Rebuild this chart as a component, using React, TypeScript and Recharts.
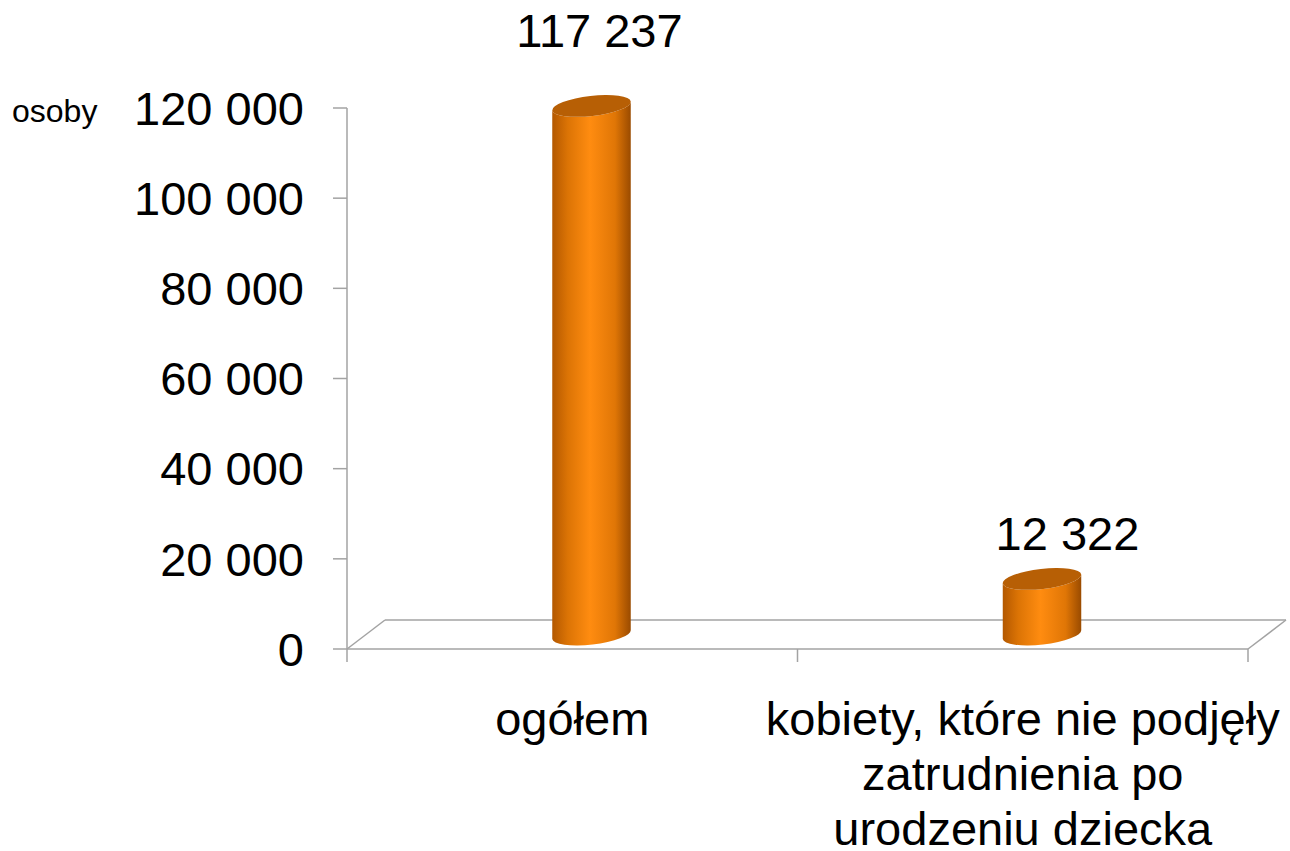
import React from 'react';
import { BarChart, Bar, XAxis, YAxis, LabelList, Customized } from 'recharts';

const CATEGORIES = ['ogółem', 'kobiety, które nie podjęły\nzatrudnienia po\nurodzeniu dziecka'];
const VALUES = [117237, 12322];
const Y_TICKS = [0, 20000, 40000, 60000, 80000, 100000, 120000];
const UNIT = 'osoby';

const data = CATEGORIES.map((name, i) => ({ name, value: VALUES[i] }));

const W = 1290;
const H = 851;
const PLOT = { left: 347, right: 1248, top: 108, bottom: 649 };
const DEPTH_X = 38;
const DEPTH_Y = 29;
const GRID = '#a3a3a3';
const FONT = 'Arial, "Liberation Sans", sans-serif';
const FS = 47;

const fmt = (v: number) => String(v).replace(/\B(?=(\d{3})+(?!\d))/g, ' ');

function Floor() {
    const { left, right, bottom } = PLOT;
    const mid = (left + right) / 2;
    return (
        <g>
            <line x1={left + DEPTH_X} y1={bottom - DEPTH_Y} x2={right + DEPTH_X} y2={bottom - DEPTH_Y} stroke={GRID} strokeWidth={1.5} />
            <line x1={left} y1={bottom} x2={left + DEPTH_X} y2={bottom - DEPTH_Y} stroke={GRID} strokeWidth={1.5} />
            <line x1={right} y1={bottom} x2={right + DEPTH_X} y2={bottom - DEPTH_Y} stroke={GRID} strokeWidth={1.5} />
            {[left, mid, right].map((x) => (
                <line key={x} x1={x} y1={bottom} x2={x} y2={bottom + 13} stroke={GRID} strokeWidth={1.5} />
            ))}
            <text x={12} y={122} fontSize={32} fontFamily={FONT} fill="#000">{UNIT}</text>
        </g>
    );
}

function Cylinder(props: any) {
    const { x, y, width, height } = props;
    const a = width / 2;
    const b = 10;
    const rot = -6.5;
    const cx = x + a + DEPTH_X / 2;
    const yTop = y - DEPTH_Y / 2;
    const yBot = y + height - DEPTH_Y / 2;
    const ex = a * Math.cos((rot * Math.PI) / 180);
    const ey = a * Math.sin((rot * Math.PI) / 180);
    const body = [
        `M ${cx - ex} ${yTop - ey}`,
        `L ${cx - ex} ${yBot - ey}`,
        `A ${a} ${b} ${rot} 0 0 ${cx + ex} ${yBot + ey}`,
        `L ${cx + ex} ${yTop + ey}`,
        `A ${a} ${b} ${rot} 0 1 ${cx - ex} ${yTop - ey}`,
        'Z',
    ].join(' ');
    return (
        <g>
            <path d={body} fill="url(#cylBody)" />
            <ellipse cx={cx} cy={yTop} rx={a} ry={b} transform={`rotate(${rot} ${cx} ${yTop})`} fill="#b75f05" />
        </g>
    );
}

function ValueLabel(props: any) {
    const { x, y, width, height, value } = props;
    // Excel's 3D label placement drifts with bar height
    const off = 25.5 + 0.0634 * height;
    const shift = 27.5 - 0.037 * height;
    return (
        <text x={x + width / 2 + DEPTH_X / 2 + shift} y={y - DEPTH_Y / 2 - off} textAnchor="middle" fontSize={FS} fontFamily={FONT} fill="#000">
            {fmt(value)}
        </text>
    );
}

function CategoryTick(props: any) {
    const { x, y, payload } = props;
    const lines = String(payload.value).split('\n');
    return (
        <text x={x} y={y + 86} textAnchor="middle" fontSize={FS} fontFamily={FONT} fill="#000">
            {lines.map((l, i) => (
                <tspan key={i} x={x} dy={i === 0 ? 0 : 55}>{l}</tspan>
            ))}
        </text>
    );
}

export default function App() {
    return (
        <div style={{ width: W, height: H, background: '#fff' }}>
            <style>{'body{margin:0}'}</style>
            <BarChart width={W} height={H} data={data} barSize={79}
                margin={{ top: PLOT.top, right: W - PLOT.right, bottom: H - PLOT.bottom - 150, left: 0 }}>
                <defs>
                    <linearGradient id="cylBody" x1="0" y1="0" x2="1" y2="0">
                        <stop offset="0%" stopColor="#b35800" />
                        <stop offset="20%" stopColor="#dc7405" />
                        <stop offset="48%" stopColor="#ff8c10" />
                        <stop offset="80%" stopColor="#e07606" />
                        <stop offset="100%" stopColor="#9a4b00" />
                    </linearGradient>
                </defs>
                <Customized component={<Floor />} />
                <XAxis dataKey="name" height={150} axisLine={{ stroke: GRID, strokeWidth: 1.5 }} tickLine={false}
                    tickSize={0} tickMargin={0} interval={0} tick={<CategoryTick />} />
                <YAxis width={PLOT.left} domain={[0, 120000]} ticks={Y_TICKS} tickFormatter={fmt}
                    axisLine={{ stroke: GRID, strokeWidth: 1.5 }} tickLine={{ stroke: GRID, strokeWidth: 1.5 }}
                    tickSize={14} tickMargin={29} tick={{ fontSize: FS, fontFamily: FONT, fill: '#000' }} />
                <Bar dataKey="value" shape={<Cylinder />} isAnimationActive={false}>
                    <LabelList dataKey="value" content={<ValueLabel />} />
                </Bar>
            </BarChart>
        </div>
    );
}
